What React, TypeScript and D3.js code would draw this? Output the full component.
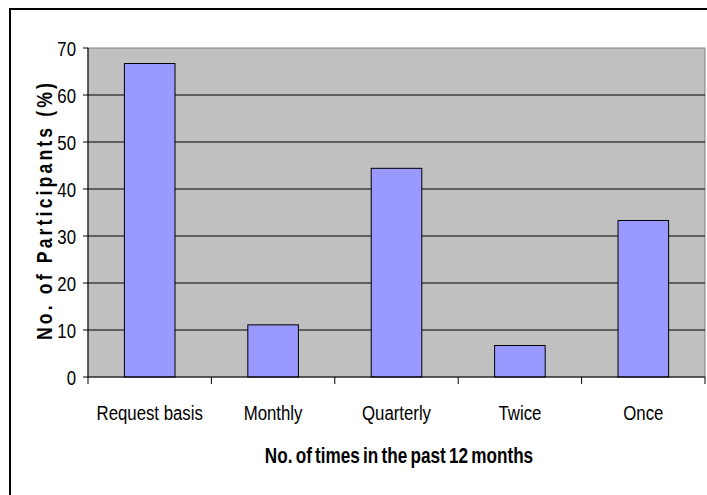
import React from "react";
import * as d3 from "d3";

const categories = ["Request basis", "Monthly", "Quarterly", "Twice", "Once"];
const values = [66.7, 11.1, 44.4, 6.7, 33.3];
const yTicks = [0, 10, 20, 30, 40, 50, 60, 70];
const xTitle = "No. of times in the past 12 months";
const yTitle = "No. of Participants (%)";

const W = 707;
const H = 495;
const plot = { left: 88, right: 705, top: 48, bottom: 377 };
const FONT = "'Liberation Sans', Arial, sans-serif";
const NARROW = 0.8;

export default function App() {
  const x = d3.scaleBand<string>().domain(categories).range([plot.left, plot.right]).padding(0);
  const y = d3.scaleLinear().domain([0, 70]).range([plot.bottom, plot.top]);
  const step = x.step();
  const barW = step * 0.41;

  return (
    <svg
      width={W}
      height={H}
      style={{ position: "absolute", left: 0, top: 0, background: "#fff" }}
    >
      {/* outer chart border (cut off at right & bottom) */}
      <rect x={10} y={9} width={W + 20} height={H + 20} fill="#fff" stroke="#000" strokeWidth={2} />

      {/* plot area */}
      <rect
        x={plot.left}
        y={plot.top}
        width={plot.right - plot.left}
        height={plot.bottom - plot.top}
        fill="#C0C0C0"
        stroke="#808080"
        strokeWidth={1}
      />

      {/* gridlines */}
      {yTicks
        .filter((t) => t !== 0 && t !== 70)
        .map((t) => (
          <line key={t} x1={plot.left} x2={plot.right} y1={y(t)} y2={y(t)} stroke="#000" strokeWidth={1} />
        ))}

      {/* bars */}
      {categories.map((c, i) => {
        const cx = (x(c) as number) + step / 2;
        return (
          <rect
            key={c}
            x={cx - barW / 2}
            y={y(values[i])}
            width={barW}
            height={y(0) - y(values[i])}
            fill="#9999FF"
            stroke="#000"
            strokeWidth={1}
          />
        );
      })}

      {/* y axis */}
      <line x1={plot.left} x2={plot.left} y1={plot.top} y2={plot.bottom} stroke="#000" strokeWidth={1} />
      {yTicks.map((t) => (
        <g key={t}>
          <line x1={plot.left - 5} x2={plot.left} y1={y(t)} y2={y(t)} stroke="#000" strokeWidth={1} />
          <g transform={`translate(${plot.left - 12}, ${y(t)}) scale(${NARROW}, 1)`}>
            <text dy="0.36em" textAnchor="end" fontFamily={FONT} fontSize={21} fill="#000">
              {t}
            </text>
          </g>
        </g>
      ))}

      {/* x axis */}
      <line x1={plot.left} x2={plot.right} y1={plot.bottom} y2={plot.bottom} stroke="#000" strokeWidth={1} />
      {d3.range(categories.length + 1).map((i) => (
        <line
          key={i}
          x1={plot.left + i * step}
          x2={plot.left + i * step}
          y1={plot.bottom}
          y2={plot.bottom + 7}
          stroke="#000"
          strokeWidth={1}
        />
      ))}
      {categories.map((c) => (
        <g key={c} transform={`translate(${(x(c) as number) + step / 2}, 420) scale(${NARROW}, 1)`}>
          <text textAnchor="middle" fontFamily={FONT} fontSize={21} fill="#000">
            {c}
          </text>
        </g>
      ))}

      {/* axis titles */}
      <g transform={`translate(399, 463) scale(0.78, 1)`}>
        <text textAnchor="middle" fontFamily={FONT} fontSize={22} fontWeight="bold" fill="#000" wordSpacing={-2}>
          {xTitle}
        </text>
      </g>
      <g transform={`translate(52, ${(83 + 340) / 2}) rotate(-90) scale(${NARROW}, 1)`}>
        <text
          textAnchor="middle"
          fontFamily={FONT}
          fontSize={22}
          fontWeight="bold"
          fill="#000"
          textLength={257 / NARROW}
          lengthAdjust="spacing"
        >
          {yTitle}
        </text>
      </g>
    </svg>
  );
}
